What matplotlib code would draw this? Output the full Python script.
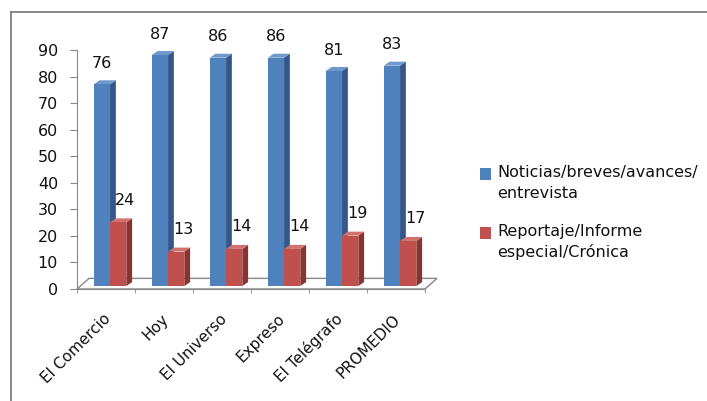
import matplotlib
matplotlib.use("Agg")
import matplotlib.pyplot as plt
from matplotlib.patches import Polygon, Rectangle
from matplotlib.lines import Line2D

# data
diarios = ["El Comercio", "Hoy", "El Universo", "Expreso", "El Telégrafo", "PROMEDIO"]
noticias = [76, 87, 86, 86, 81, 83]
reportaje = [24, 13, 14, 14, 19, 17]
series_names = ["Noticias/breves/avances/\nentrevista", "Reportaje/Informe\nespecial/Crónica"]
y_ticks = [0, 10, 20, 30, 40, 50, 60, 70, 80, 90]

# styling for the fake 3d look
FRONT = ["#4F81BD", "#C0504D"]
SIDE = ["#34578A", "#8A3431"]
TOP = ["#6F98CB", "#D2716E"]
GRID = "#868686"
TXT = "#111111"
BAR_W = 0.28
DX, DY = 0.10, 1.5        # bar depth (category units, value units)
FLOOR_DX, FLOOR_DY = 0.207, 4.0
BASE = 1.1                # bars stand slightly behind the front edge

W, H = 707, 401
fig = plt.figure(figsize=(W / 100, H / 100), dpi=100)
plt.rcParams["font.family"] = ["DejaVu Sans"]

ax = fig.add_axes([77 / W, (H - 289) / H, 348 / W, 239 / H])
ax.set_xlim(-0.5, 5.5)
ax.set_ylim(0, 90)
ax.patch.set_alpha(0)

# floor
floor = Polygon([(-0.5, 0), (5.5, 0), (5.5 + FLOOR_DX, FLOOR_DY), (-0.5 + FLOOR_DX, FLOOR_DY)],
                closed=True, facecolor="none", edgecolor=GRID, lw=1.0, zorder=1, clip_on=False)
ax.add_patch(floor)


def bar3d(left, value, k, z):
    right = left + BAR_W
    top = value + BASE
    ax.add_patch(Rectangle((left, BASE), BAR_W, value, facecolor=FRONT[k],
                           edgecolor="none", zorder=z + 0.2, clip_on=False))
    ax.add_patch(Polygon([(right, BASE), (right, top), (right + DX, top + DY), (right + DX, BASE + DY)],
                         closed=True, facecolor=SIDE[k], edgecolor="none", zorder=z, clip_on=False))
    ax.add_patch(Polygon([(left, top), (right, top), (right + DX, top + DY), (left + DX, top + DY)],
                         closed=True, facecolor=TOP[k], edgecolor="none", zorder=z + 0.1, clip_on=False))


for i, (a, b) in enumerate(zip(noticias, reportaje)):
    bar3d(i - 0.21, a, 0, 3)
    bar3d(i + 0.07, b, 1, 4)
    ax.annotate(str(a), (i - 0.07, a + BASE), xytext=(0, 15), textcoords="offset points",
                ha="center", va="center", fontsize=11.5, color=TXT)
    ax.annotate(str(b), (i + 0.21, b + BASE), xytext=(5, 16), textcoords="offset points",
                ha="center", va="center", fontsize=11.5, color=TXT)

# axes
for s in ["top", "right"]:
    ax.spines[s].set_visible(False)
ax.spines["left"].set_color(GRID)
ax.spines["bottom"].set_color(GRID)
ax.set_yticks(y_ticks)
ax.tick_params(axis="y", length=5, color=GRID, pad=8.6, labelsize=11.5, labelcolor=TXT)
ax.set_xticks([i + 0.04 for i in range(len(diarios))], diarios, rotation=45, ha="right",
              va="center", rotation_mode="anchor", fontsize=11)
ax.set_xticks([i - 0.5 for i in range(len(diarios) + 1)], minor=True)
ax.tick_params(axis="x", which="major", length=0, pad=20, labelcolor=TXT)
ax.tick_params(axis="x", which="minor", length=3, color=GRID)

# legend
leg_y = [177, 236]
for k, name in enumerate(series_names):
    y0 = leg_y[k]
    fig.add_artist(Rectangle((480 / W, 1 - (y0 + 3) / H), 11 / W, 12 / H,
                             facecolor=FRONT[k], edgecolor="none", transform=fig.transFigure))
    for j, line in enumerate(name.split("\n")):
        fig.text(497 / W, 1 - (y0 + 21 * j) / H, line, fontsize=11.5, va="baseline",
                 ha="left", color=TXT)

# chart border (cropped at right/bottom)
fig.add_artist(Line2D([11 / W, 11 / W], [0, 1 - 12 / H], color="#7F7F7F", lw=1.3,
                      transform=fig.transFigure))
fig.add_artist(Line2D([11 / W, 1], [1 - 12 / H, 1 - 12 / H], color="#7F7F7F", lw=1.3,
                      transform=fig.transFigure))

fig.savefig("out.png", dpi=100)
